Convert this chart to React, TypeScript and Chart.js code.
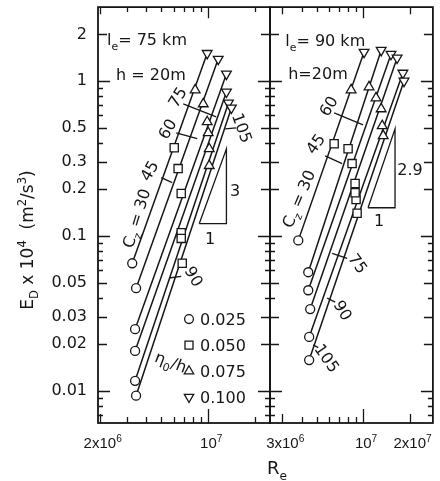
import React, { useEffect, useRef } from 'react';
import { Chart, registerables } from 'chart.js';

Chart.register(...registerables);

const SANS = '"DejaVu Sans", "Liberation Sans", sans-serif';
const ARIAL = '"Liberation Sans", Arial, sans-serif';
const INK = '#161616';

// Cz value of each line and the eta0/h marker classes
const czValues = [30, 45, 60, 75, 90, 105];
const etaLabels = ['0.025', '0.050', '0.075', '0.100'];

// Left panel: l_e = 75 km, h = 20 m  (Re, E_D x 10^4) per Cz line
const reL025 = [3.24e6, 3.43e6, 3.38e6, 3.38e6, 3.38e6, 3.43e6];
const edL025 = [0.0666, 0.046, 0.025, 0.0181, 0.0116, 0.0093];
const reL050 = [6.04e6, 6.4e6, 6.7e6, 6.7e6, 6.7e6, 6.8e6];
const edL050 = [0.371, 0.272, 0.188, 0.105, 0.0964, 0.0666];
const reL075 = [8.24e6, 9.29e6, 9.85e6, 1.0e7, 1.015e7, 1.015e7];
const edL075 = [0.875, 0.711, 0.545, 0.463, 0.365, 0.284];
const reL100 = [9.85e6, 1.16e7, 1.31e7, 1.31e7, 1.35e7, 1.41e7];
const edL100 = [1.51, 1.385, 1.11, 0.85, 0.722, 0.67];

// Right panel: l_e = 90 km, h = 20 m
const reR025 = [3.81e6, 4.42e6, 4.42e6, 4.55e6, 4.48e6, 4.48e6];
const edR025 = [0.0936, 0.0583, 0.0446, 0.0337, 0.0223, 0.0158];
const reR050 = [6.5e6, 8.0e6, 8.49e6, 8.88e6, 9.01e6, 9.15e6, 8.88e6];
const edR050 = [0.394, 0.365, 0.293, 0.218, 0.172, 0.14, 0.19];
const reR075 = [8.37e6, 1.093e7, 1.213e7, 1.31e7, 1.33e7, 1.35e7];
const edR075 = [0.875, 0.915, 0.777, 0.66, 0.514, 0.443];
const reR100 = [1.015e7, 1.31e7, 1.516e7, 1.66e7, 1.81e7, 1.84e7];
const edR100 = [1.537, 1.58, 1.49, 1.41, 1.126, 1.0];

// Axis ticks
const yLabelTicks = [0.01, 0.02, 0.03, 0.05, 0.1, 0.2, 0.3, 0.5, 1, 2];
const yLabelTexts = ['0.01', '0.02', '0.03', '0.05', '0.1', '0.2', '0.3', '0.5', '1', '2'];
const yMinorTicks = [0.007, 0.008, 0.009, 0.04, 0.06, 0.07, 0.08, 0.09, 0.4, 0.6, 0.7, 0.8, 0.9];
const yDecades = [0.01, 0.1, 1];
const xTicksLeft = [2e6, 3e6, 4e6, 5e6, 6e6, 7e6, 8e6, 9e6, 1e7, 2e7];
const xLabelValuesLeft = [2e6, 1e7];
const xLabelTextsLeft = ['2x10^{6}', '10^{7}'];
const xTicksRight = [3e6, 4e6, 5e6, 6e6, 7e6, 8e6, 9e6, 1e7, 2e7];
const xLabelValuesRight = [3e6, 1e7, 2e7];
const xLabelTextsRight = ['3x10^{6}', '10^{7}', '2x10^{7}'];

type Seg = [string, number];
function parseRich(s: string): Seg[] {
  const out: Seg[] = [];
  let buf = '';
  let i = 0;
  while (i < s.length) {
    const c = s[i];
    if ((c === '_' || c === '^') && s[i + 1] === '{') {
      if (buf) { out.push([buf, 0]); buf = ''; }
      const end = s.indexOf('}', i);
      out.push([s.slice(i + 2, end), c === '_' ? 1 : 2]);
      i = end + 1;
    } else { buf += c; i++; }
  }
  if (buf) out.push([buf, 0]);
  return out;
}

function drawRich(ctx: CanvasRenderingContext2D, text: string, x: number, y: number,
  o: { size?: number; rot?: number; align?: string; font?: string } = {}) {
  const size = o.size ?? 16;
  const font = o.font ?? SANS;
  const small = size * 0.68;
  const segs = parseRich(text);
  ctx.save();
  ctx.translate(x, y);
  ctx.rotate(((o.rot ?? 0) * Math.PI) / 180);
  ctx.textAlign = 'left';
  ctx.textBaseline = 'alphabetic';
  ctx.fillStyle = INK;
  const ws = segs.map(([t, k]) => { ctx.font = `${k ? small : size}px ${font}`; return ctx.measureText(t).width; });
  const total = ws.reduce((a, b) => a + b, 0);
  let cx = o.align === 'left' ? 0 : o.align === 'right' ? -total : -total / 2;
  const base = size * 0.36;
  segs.forEach(([t, k], i) => {
    ctx.font = `${k ? small : size}px ${font}`;
    const dy = k === 1 ? size * 0.3 : k === 2 ? -size * 0.42 : 0;
    ctx.fillText(t, cx, base + dy);
    cx += ws[i];
  });
  ctx.restore();
}

function drawMarker(ctx: CanvasRenderingContext2D, kind: number, x: number, y: number) {
  ctx.save();
  ctx.fillStyle = '#fff';
  ctx.strokeStyle = INK;
  ctx.lineWidth = 1.3;
  ctx.beginPath();
  if (kind === 0) ctx.arc(x, y, 4.4, 0, Math.PI * 2);
  else if (kind === 1) ctx.rect(x - 4, y - 4, 8, 8);
  else {
    const r = 5.4;
    const s = kind === 2 ? 1 : -1;
    ctx.moveTo(x, y - s * r);
    ctx.lineTo(x + r * 0.866, y + s * r * 0.5);
    ctx.lineTo(x - r * 0.866, y + s * r * 0.5);
    ctx.closePath();
  }
  ctx.fill();
  ctx.stroke();
  ctx.restore();
}

type TextItem = { text: string; x: number; y: number; rot?: number; align?: string };
type Panel = {
  id: string; xMin: number; xMax: number;
  pad: { left: number; right: number; top: number; bottom: number };
  yWidth: number; showY: boolean;
  re025: number[]; ed025: number[]; re050: number[]; ed050: number[];
  re075: number[]; ed075: number[]; re100: number[]; ed100: number[];
  xTicks: number[]; xLabelValues: number[]; xLabelTexts: string[];
  guides: number[][][]; texts: TextItem[]; legend: boolean;
};

const leftPanel: Panel = {
  id: 'left', xMin: 1.95e6, xMax: 2.5e7,
  pad: { left: 0, right: 170, top: 6, bottom: 0 }, yWidth: 98, showY: true,
  re025: reL025, ed025: edL025, re050: reL050, ed050: edL050,
  re075: reL075, ed075: edL075, re100: reL100, ed100: edL100,
  xTicks: xTicksLeft, xLabelValues: xLabelValuesLeft, xLabelTexts: xLabelTextsLeft,
  guides: [
    [[6.9e6, 0.711], [1.126e7, 0.587]],
    [[6.22e6, 0.463], [8.49e6, 0.424]],
    [[4.98e6, 0.238], [5.86e6, 0.221]],
    [[5.6e6, 0.0535], [6.7e6, 0.0549]],
    [[1.287e7, 0.491], [1.516e7, 0.499]],
    [[8.75e6, 0.12], [1.31e7, 0.12], [1.31e7, 0.365], [8.75e6, 0.12]],
  ],
  texts: [
    { text: 'l_{e}= 75 km', x: 2.23e6, y: 1.86, align: 'left' },
    { text: 'h = 20m', x: 2.55e6, y: 1.11, align: 'left' },
    { text: 'C_{z} = 30', x: 3.43e6, y: 0.13, rot: -73 },
    { text: '45', x: 4.16e6, y: 0.264, rot: -60 },
    { text: '60', x: 5.43e6, y: 0.491, rot: -60 },
    { text: '75', x: 6.31e6, y: 0.789, rot: -58 },
    { text: '90', x: 8.12e6, y: 0.0549, rot: 60 },
    { text: '105', x: 1.66e7, y: 0.499, rot: 70 },
    { text: 'η_{0}/h', x: 5.77e6, y: 0.0154, rot: 21 },
    { text: '3', x: 1.49e7, y: 0.196 },
    { text: '1', x: 1.03e7, y: 0.0964 },
  ],
  legend: true,
};

const rightPanel: Panel = {
  id: 'right', xMin: 2.5e6, xMax: 2.83e7,
  pad: { left: 270, right: 6, top: 6, bottom: 0 }, yWidth: 0, showY: false,
  re025: reR025, ed025: edR025, re050: reR050, ed050: edR050,
  re075: reR075, ed075: edR075, re100: reR100, ed100: edR100,
  xTicks: xTicksRight, xLabelValues: xLabelValuesRight, xLabelTexts: xLabelTextsRight,
  guides: [
    [[6.5e6, 0.623], [1e7, 0.521]],
    [[5.69e6, 0.329], [7.32e6, 0.293]],
    [[6.31e6, 0.0772], [7.89e6, 0.0717]],
    [[5.86e6, 0.0397], [6.6e6, 0.0374]],
    [[4.76e6, 0.0198], [5.13e6, 0.019]],
    [[1.077e7, 0.152], [1.61e7, 0.152], [1.61e7, 0.491], [1.077e7, 0.152]],
  ],
  texts: [
    { text: 'l_{e}= 90 km', x: 3.14e6, y: 1.835, align: 'left' },
    { text: 'h=20m', x: 3.28e6, y: 1.126, align: 'left' },
    { text: 'C_{z} = 30', x: 3.81e6, y: 0.174, rot: -67 },
    { text: '45', x: 4.9e6, y: 0.394, rot: -55 },
    { text: '60', x: 5.95e6, y: 0.691, rot: -58 },
    { text: '75', x: 9.29e6, y: 0.0666, rot: 55 },
    { text: '90', x: 7.43e6, y: 0.0332, rot: 60 },
    { text: '105', x: 5.86e6, y: 0.0163, rot: 55 },
    { text: '2.9', x: 2.01e7, y: 0.268 },
    { text: '1', x: 1.268e7, y: 0.126 },
  ],
  legend: false,
};

function framePlugin(p: Panel) {
  return {
    id: 'frame-' + p.id,
    afterDraw(chart: any) {
      const { ctx, chartArea: a } = chart;
      const xs = chart.scales.x;
      const ys = chart.scales.y;
      ctx.save();
      ctx.strokeStyle = INK;
      ctx.lineWidth = 1.3;
      ctx.beginPath();
      p.xTicks.forEach((v) => {
        const px = Math.round(xs.getPixelForValue(v)) + 0.5;
        const len = v === 1e7 ? 14 : p.xLabelValues.includes(v) ? 9 : 6;
        ctx.moveTo(px, a.bottom); ctx.lineTo(px, a.bottom - len);
        ctx.moveTo(px, a.top); ctx.lineTo(px, a.top + len * 0.8);
      });
      [...yLabelTicks, ...yMinorTicks].forEach((v) => {
        const py = Math.round(ys.getPixelForValue(v)) + 0.5;
        const len = yDecades.includes(v) ? 12 : yLabelTicks.includes(v) ? 9 : 5;
        ctx.moveTo(a.left, py); ctx.lineTo(a.left + len, py);
        ctx.moveTo(a.right, py); ctx.lineTo(a.right - len, py);
      });
      ctx.stroke();
      ctx.lineWidth = 1.8;
      ctx.strokeRect(a.left, a.top, a.right - a.left, a.bottom - a.top);

      p.xLabelValues.forEach((v, i) => {
        drawRich(ctx, p.xLabelTexts[i], xs.getPixelForValue(v) + 3, a.bottom + 20, { size: 15, font: ARIAL });
      });
      p.texts.forEach((t) => {
        drawRich(ctx, t.text, xs.getPixelForValue(t.x), ys.getPixelForValue(t.y), { size: 16, rot: t.rot ?? 0, align: t.align ?? 'center' });
      });
      if (p.legend) {
        etaLabels.forEach((lab, i) => {
          const y = a.top + 312 + i * 26;
          drawMarker(ctx, i, a.left + 91, y);
          drawRich(ctx, lab, a.left + 102, y, { size: 16, align: 'left' });
        });
        drawRich(ctx, 'E_{D} x 10^{4}  (m^{2}/s^{3})', a.left - 71, (a.top + a.bottom) / 2 + 25, { size: 17, rot: -90 });
        drawRich(ctx, 'R_{e}', a.right - 3, a.bottom + 45, { size: 18, align: 'left' });
      }
      ctx.restore();
    },
  };
}

function buildConfig(p: Panel): any {
  const pts = (re: number[], ed: number[]) => re.map((x, i) => ({ x, y: ed[i] }));
  const markerSpecs = [
    { data: pts(p.re025, p.ed025), pointStyle: 'circle', pointRadius: 4.5, pointRotation: 0 },
    { data: pts(p.re050, p.ed050), pointStyle: 'rect', pointRadius: 5.8, pointRotation: 0 },
    { data: pts(p.re075, p.ed075), pointStyle: 'triangle', pointRadius: 5.6, pointRotation: 0 },
    { data: pts(p.re100, p.ed100), pointStyle: 'triangle', pointRadius: 5.6, pointRotation: 180 },
  ];
  const markers = markerSpecs.map((m, i) => ({
    label: 'η0/h = ' + etaLabels[i], ...m, showLine: false,
    pointBackgroundColor: '#fff', pointBorderColor: INK, pointBorderWidth: 1.3, order: 0,
  }));
  const lines = czValues.map((cz, i) => ({
    label: 'Cz = ' + cz,
    data: [{ x: p.re025[i], y: p.ed025[i] }, { x: p.re100[i], y: p.ed100[i] }],
    showLine: true, borderColor: INK, borderWidth: 1.5, pointRadius: 0, order: 1,
  }));
  const guides = p.guides.map((g, i) => ({
    label: 'guide ' + i, data: g.map(([x, y]) => ({ x, y })),
    showLine: true, borderColor: INK, borderWidth: 1.3, pointRadius: 0, order: 2,
  }));
  return {
    type: 'scatter',
    data: { datasets: [...markers, ...lines, ...guides] },
    options: {
      animation: false,
      responsive: false,
      events: [],
      layout: { padding: p.pad },
      plugins: { legend: { display: false }, tooltip: { enabled: false } },
      scales: {
        x: {
          type: 'logarithmic', min: p.xMin, max: p.xMax,
          afterBuildTicks: (s: any) => { s.ticks = p.xTicks.map((v) => ({ value: v })); },
          ticks: { display: false },
          grid: { display: false, drawTicks: false },
          border: { display: false },
          afterFit: (s: any) => { s.height = 58; s.paddingLeft = 0; s.paddingRight = 0; },
        },
        y: {
          type: 'logarithmic', min: 0.0062, max: 3,
          afterBuildTicks: (s: any) => { s.ticks = [...yLabelTicks, ...yMinorTicks].sort((a, b) => a - b).map((v) => ({ value: v })); },
          ticks: {
            display: p.showY, autoSkip: false, padding: 11, color: INK,
            font: { family: SANS, size: 16 },
            callback: (v: number) => { const k = yLabelTicks.indexOf(v); return k >= 0 ? yLabelTexts[k] : null; },
          },
          grid: { display: false, drawTicks: false },
          border: { display: false },
          afterFit: (s: any) => { s.width = p.yWidth; s.paddingTop = 0; s.paddingBottom = 0; },
        },
      },
    },
    plugins: [framePlugin(p)],
  };
}

export default function App() {
  const leftRef = useRef<HTMLCanvasElement>(null);
  const rightRef = useRef<HTMLCanvasElement>(null);
  useEffect(() => {
    const c1 = new Chart(leftRef.current as HTMLCanvasElement, buildConfig(leftPanel));
    const c2 = new Chart(rightRef.current as HTMLCanvasElement, buildConfig(rightPanel));
    return () => { c1.destroy(); c2.destroy(); };
  }, []);
  return (
    <div style={{ position: 'absolute', left: 0, top: 0, width: 440, height: 481, background: '#fff' }}>
      <canvas ref={leftRef} width={440} height={481} style={{ position: 'absolute', left: 0, top: 0 }} />
      <canvas ref={rightRef} width={440} height={481} style={{ position: 'absolute', left: 0, top: 0 }} />
    </div>
  );
}
